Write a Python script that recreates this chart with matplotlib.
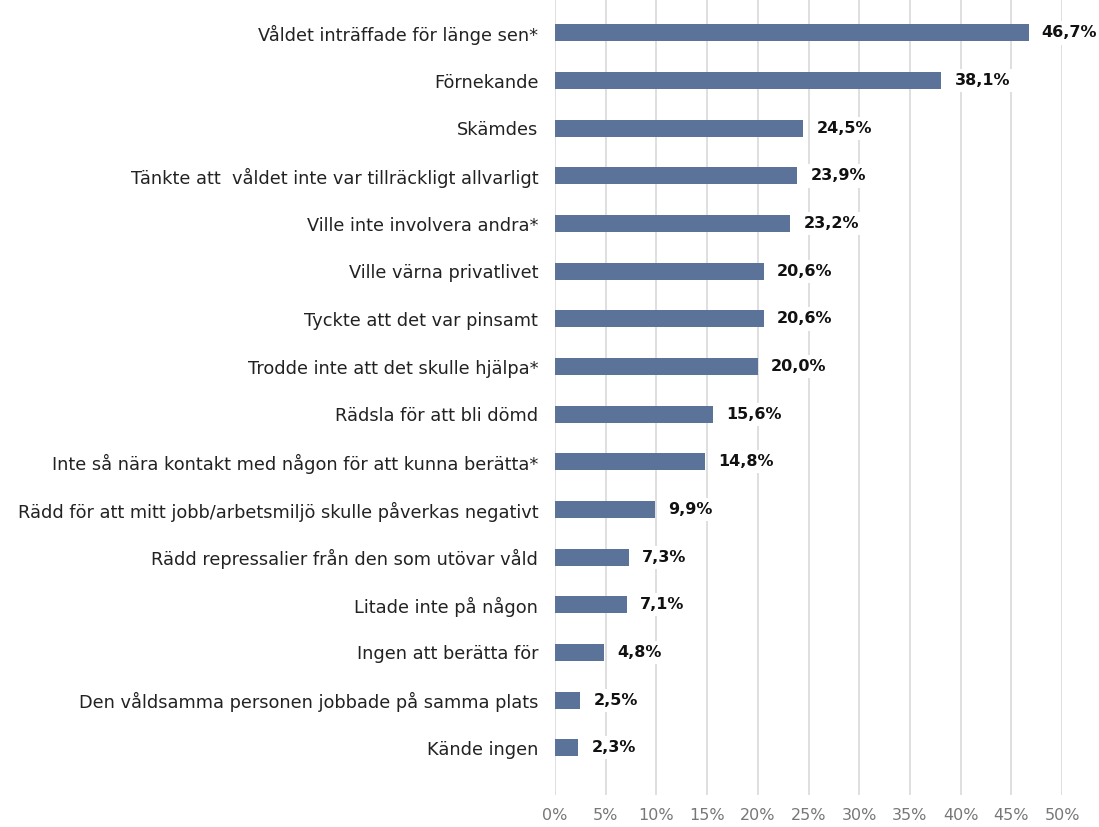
import numpy as np
import matplotlib.pyplot as plt

plt.rcParams['font.family'] = ['DejaVu Sans']

categories = [
    "Våldet inträffade för länge sen*",
    "Förnekande",
    "Skämdes",
    "Tänkte att  våldet inte var tillräckligt allvarligt",
    "Ville inte involvera andra*",
    "Ville värna privatlivet",
    "Tyckte att det var pinsamt",
    "Trodde inte att det skulle hjälpa*",
    "Rädsla för att bli dömd",
    "Inte så nära kontakt med någon för att kunna berätta*",
    "Rädd för att mitt jobb/arbetsmiljö skulle påverkas negativt",
    "Rädd repressalier från den som utövar våld",
    "Litade inte på någon",
    "Ingen att berätta för",
    "Den våldsamma personen jobbade på samma plats",
    "Kände ingen",
]
values = [46.7, 38.1, 24.5, 23.9, 23.2, 20.6, 20.6, 20.0, 15.6, 14.8, 9.9, 7.3, 7.1, 4.8, 2.5, 2.3]
ticks = [0, 5, 10, 15, 20, 25, 30, 35, 40, 45, 50]

fig = plt.figure(figsize=(10.99, 8.27), dpi=100)
ax = fig.add_axes([555/1099, 1 - 795/827, (1062-555)/1099, 795/827])

y = np.arange(len(categories))
ax.barh(y, values, height=0.36, color='#5b7399', zorder=2)

for yi, v in zip(y, values):
    ax.text(v + 1.3, yi, ("%.1f%%" % v).replace('.', ','), va='center', ha='left',
            fontsize=11.5, fontweight='bold', color='#111111', zorder=3,
            bbox=dict(facecolor='white', edgecolor='none', pad=3))

ax.set_xlim(0, 50)
ax.set_ylim(len(categories) - 1 + 0.99, -0.69)
ax.set_xticks(ticks)
ax.set_xticklabels(["%d%%" % t for t in ticks], color='#777777', fontsize=11.5)
ax.set_yticks(y)
ax.set_yticklabels(categories, fontsize=12.8, color='#222222')
ax.tick_params(axis='both', length=0)
ax.tick_params(axis='y', pad=12)
ax.tick_params(axis='x', pad=9)
ax.grid(axis='x', color='#d9d9d9', lw=1.2, zorder=0)
for s in ax.spines.values():
    s.set_visible(False)

fig.savefig('out.png', dpi=100)
